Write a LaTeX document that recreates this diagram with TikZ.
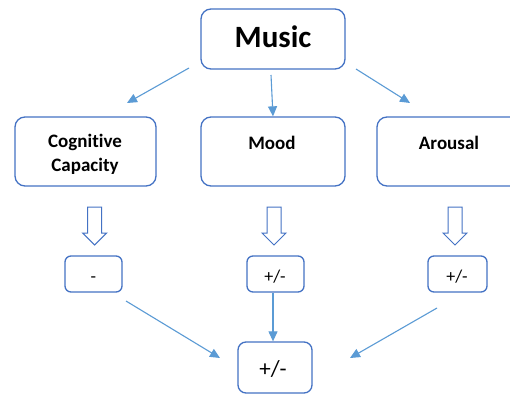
\documentclass[tikz,border=0pt]{standalone}
\usepackage{fontspec}
\setmainfont{Carlito}[Ligatures={NoCommon}]
\usetikzlibrary{arrows.meta}
\definecolor{boxblue}{HTML}{4472C4}
\definecolor{arrblue}{HTML}{5B9BD5}
\begin{document}
\begin{tikzpicture}[x=1pt,y=1pt,
  bigbox/.style={draw=boxblue, line width=1.3pt, rounded corners=10pt, fill=white, inner sep=0pt},
  smallbox/.style={draw=boxblue, line width=1.3pt, rounded corners=6pt, fill=white, inner sep=0pt, minimum height=36pt},
  conn/.style={draw=arrblue, line width=1.1pt, -{Triangle[length=10pt,width=9pt]}},
  hollow/.style={draw=boxblue, line width=1pt, fill=white, line join=miter},
  lbl/.style={font=\bfseries\fontsize{19}{23}\selectfont, anchor=base},
  pm/.style={font=\fontsize{18}{22}\selectfont, anchor=base}]
\useasboundingbox (0,0) rectangle (510,394);
\fill[white] (0,0) rectangle (510,394);

% top box
\node[bigbox, minimum width=144pt, minimum height=60pt] (music) at (273,355) {};
\node[font=\bfseries\fontsize{31}{36}\selectfont, anchor=base] (musict) at (273,346) {Music};

% middle row
\node[bigbox, minimum width=141pt, minimum height=69pt] (cog) at (85.5,242.5) {};
\node[lbl] (cogt1) at (85,247) {Cognitive};
\node[lbl] (cogt2) at (85,223) {Capacity};
\node[bigbox, minimum width=144pt, minimum height=69pt] (mood) at (273,242.5) {};
\node[lbl] (moodt) at (272,245) {Mood};
\node[bigbox, minimum width=145pt, minimum height=69pt] (arousal) at (449.5,242.5) {};
\node[lbl] (arousalt) at (449,245) {Arousal};

% hollow arrows
\foreach \cx/\nm in {94.7/ha, 274/hb, 455/hc}{
  \draw[hollow] (\cx-7,187) -- (\cx+7,187) -- (\cx+7,161) -- (\cx+12,161) -- (\cx,149)
     -- (\cx-12,161) -- (\cx-7,161) -- cycle;
}

% small boxes
\node[smallbox, minimum width=57pt] (neg) at (93.5,120) {};
\node[pm] (negt) at (93.5,112) {-};
\node[smallbox, minimum width=57pt] (mid) at (275.5,120) {};
\node[pm] (midt) at (275,112) {+/-};
\node[smallbox, minimum width=59pt] (rgt) at (457.5,120) {};
\node[pm] (rgtt) at (457,112) {+/-};

% bottom box
\node[smallbox, rounded corners=8pt, minimum width=74pt, minimum height=51pt] (bottom) at (275,26.5) {};
\node[font=\fontsize{23}{27}\selectfont, anchor=base] (bottomt) at (273,18) {+/-};

% connectors
\coordinate (m1) at (189,326);
\coordinate (c1) at (127,291);
\coordinate (m2) at (271,319);
\coordinate (m3) at (356,325);
\coordinate (a3) at (410,291);
\coordinate (n1) at (126,93);
\coordinate (b1) at (220,36);
\coordinate (r1) at (437,86);
\coordinate (b3) at (350,36);
\draw[conn] (m1) -- (c1);
\draw[conn] (m2) -- (mood.north);
\draw[conn] (m3) -- (a3);
\draw[conn] (n1) -- (b1);
\draw[conn] ([xshift=-2.5pt]mid.south) -- ([xshift=-2pt]bottom.north);
\draw[conn] (r1) -- (b3);
\end{tikzpicture}
\end{document}
